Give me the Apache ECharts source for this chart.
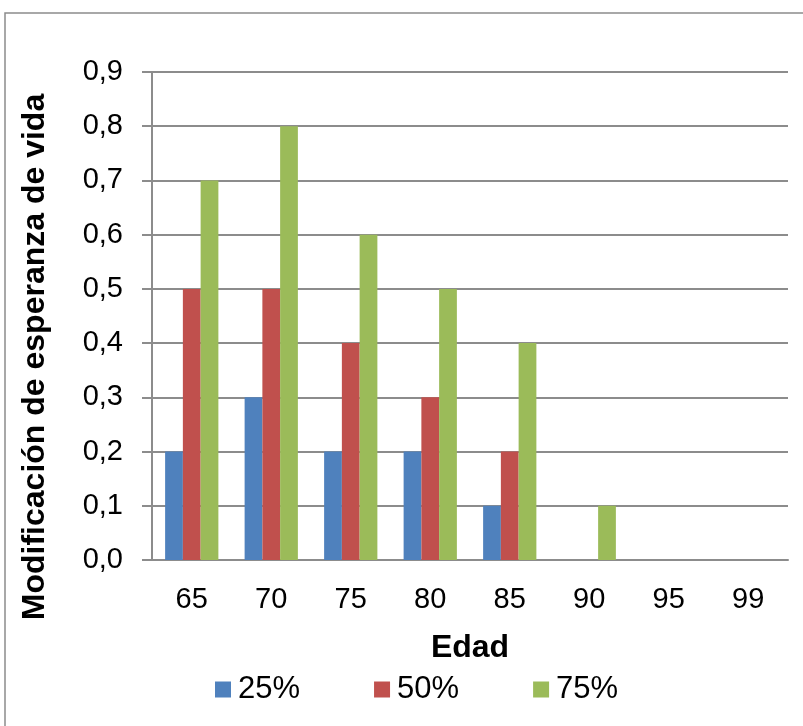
<!DOCTYPE html>
<head>
    <meta charset="utf-8">
    <title>Modificación de esperanza de vida</title>
</head>
<body style="margin:0">
    <script type="text/javascript" src="https://cdn.jsdelivr.net/npm/echarts@6/dist/echarts.min.js"></script>

    <div id="main" style="width: 803px;height:726px;"></div>

    <script type="text/javascript">
        var edades = ['65', '70', '75', '80', '85', '90', '95', '99'];
        var p25 = [0.2, 0.3, 0.2, 0.2, 0.1, 0, 0, 0];
        var p50 = [0.5, 0.5, 0.4, 0.3, 0.2, 0, 0, 0];
        var p75 = [0.7, 0.8, 0.6, 0.5, 0.4, 0.1, 0, 0];

        var myChart = echarts.init(document.getElementById('main'));
        var font = 'Liberation Sans, Arial, sans-serif';

        myChart.setOption({
            animation: false,
            textStyle: { fontFamily: font },
            graphic: [{
                type: 'rect',
                shape: { x: 5, y: 13, width: 820, height: 740 },
                style: { fill: 'none', stroke: '#8c8c8c', lineWidth: 1.5 }
            }, {
                // titulo del eje Y, algo mas abajo que el centro del grid
                type: 'text',
                x: 35, y: 357,
                rotation: Math.PI / 2,
                style: {
                    text: 'Modificación de esperanza de vida',
                    font: 'bold 32px ' + font,
                    fill: '#000',
                    align: 'center',
                    verticalAlign: 'middle'
                }
            }],
            grid: { left: 152, right: 15, top: 72, bottom: 166 },
            legend: {
                bottom: 16,
                left: 210,
                itemGap: 74,
                itemWidth: 16,
                itemHeight: 16,
                icon: 'rect',
                textStyle: { fontSize: 31, color: '#000', fontFamily: font, padding: [0, 0, 0, 2] },
                data: ['25%', '50%', '75%']
            },
            xAxis: {
                type: 'category',
                data: edades,
                name: 'Edad',
                nameLocation: 'middle',
                nameGap: 72,
                nameTextStyle: { fontSize: 32, fontWeight: 'bold', color: '#000' },
                axisLine: { lineStyle: { color: '#8c8c8c', width: 2 } },
                axisTick: { show: false },
                axisLabel: { fontSize: 29, color: '#000', margin: 25 }
            },
            yAxis: {
                type: 'value',
                min: 0,
                max: 0.9,
                interval: 0.1,
                axisLine: { show: true, lineStyle: { color: '#8c8c8c', width: 2 } },
                axisTick: { show: true, length: 10, lineStyle: { color: '#8c8c8c', width: 2 } },
                splitLine: { lineStyle: { color: '#8c8c8c', width: 2 } },
                axisLabel: {
                    fontSize: 29, color: '#000', margin: 29,
                    formatter: function (v) { return v.toFixed(1).replace('.', ','); }
                }
            },
            series: [
                { name: '25%', type: 'bar', data: p25, barGap: '0%', barCategoryGap: '33%', itemStyle: { color: '#4F81BD' } },
                { name: '50%', type: 'bar', data: p50, barGap: '0%', barCategoryGap: '33%', itemStyle: { color: '#C0504D' } },
                { name: '75%', type: 'bar', data: p75, barGap: '0%', barCategoryGap: '33%', itemStyle: { color: '#9BBB59' } }
            ]
        });
    </script>
</body>
